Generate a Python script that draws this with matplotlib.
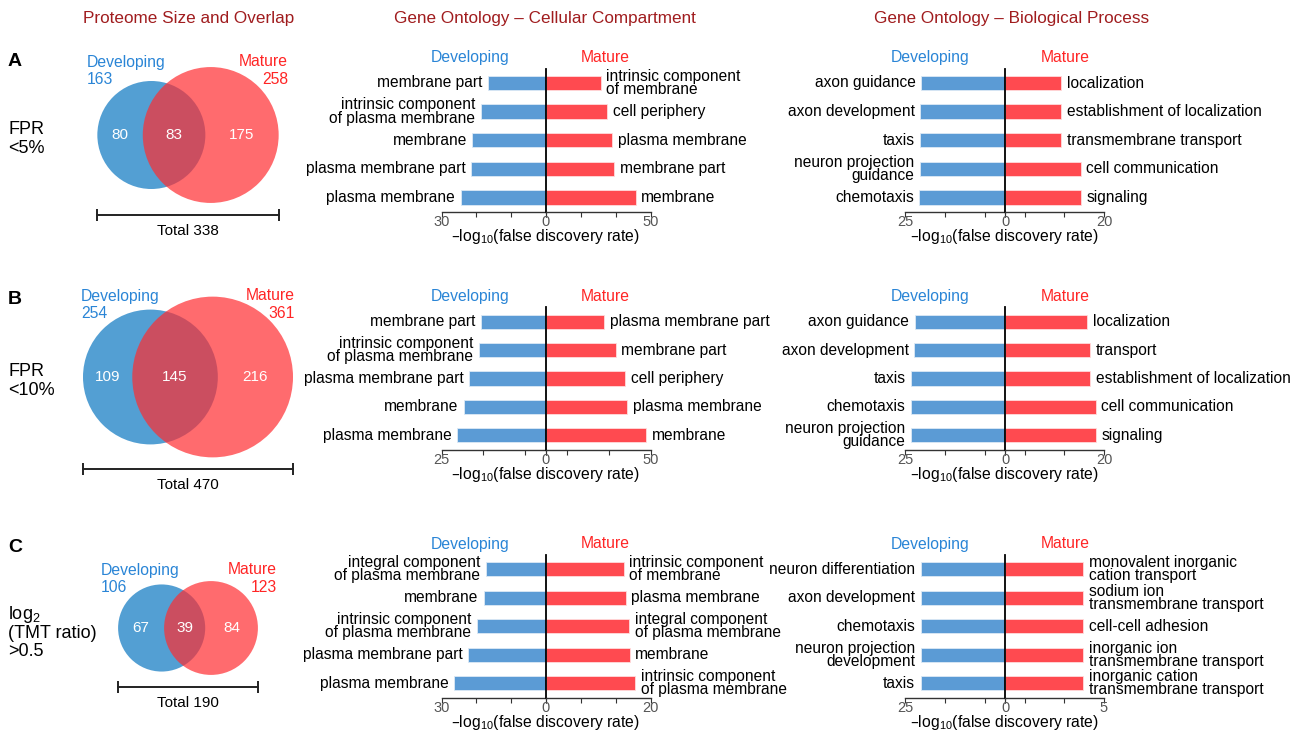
import matplotlib as mpl
mpl.use('Agg')
import matplotlib.pyplot as plt
import numpy as np
from matplotlib.patches import Circle

plt.rcParams['font.family'] = ['Liberation Sans', 'DejaVu Sans']

# ---- data ------------------------------------------------------------
venn_dev = [163, 254, 106]
venn_mat = [258, 361, 123]
venn_both = [83, 145, 39]
venn_dev_only = [80, 109, 67]
venn_mat_only = [175, 216, 84]
venn_total = [338, 470, 190]

row_letters = ['A', 'B', 'C']
row_conditions = ['FPR\n<5%', 'FPR\n<10%', 'log$\\mathregular{_2}$\n(TMT ratio)\n>0.5']

# cellular compartment, top to bottom
cc_dev_labels = [
    ['membrane part', 'intrinsic component\nof plasma membrane', 'membrane',
     'plasma membrane part', 'plasma membrane'],
    ['membrane part', 'intrinsic component\nof plasma membrane', 'plasma membrane part',
     'membrane', 'plasma membrane'],
    ['integral component\nof plasma membrane', 'membrane', 'intrinsic component\nof plasma membrane',
     'plasma membrane part', 'plasma membrane'],
]
cc_dev_values = [
    [16.7, 18.6, 21.1, 21.4, 24.5],
    [15.6, 16.0, 18.3, 19.6, 21.3],
    [17.2, 17.8, 19.8, 22.3, 26.3],
]
cc_mat_labels = [
    ['intrinsic component\nof membrane', 'cell periphery', 'plasma membrane',
     'membrane part', 'membrane'],
    ['plasma membrane part', 'membrane part', 'cell periphery', 'plasma membrane', 'membrane'],
    ['intrinsic component\nof membrane', 'plasma membrane', 'integral component\nof plasma membrane',
     'membrane', 'intrinsic component\nof plasma membrane'],
]
cc_mat_values = [
    [26.3, 29.5, 31.9, 32.7, 42.9],
    [28.0, 33.5, 38.0, 38.8, 47.8],
    [14.9, 15.3, 15.9, 16.0, 17.1],
]
cc_dev_max = [30, 25, 30]
cc_mat_max = [50, 50, 20]

# biological process, top to bottom
bp_dev_labels = [
    ['axon guidance', 'axon development', 'taxis', 'neuron projection\nguidance', 'chemotaxis'],
    ['axon guidance', 'axon development', 'taxis', 'chemotaxis', 'neuron projection\nguidance'],
    ['neuron differentiation', 'axon development', 'chemotaxis',
     'neuron projection\ndevelopment', 'taxis'],
]
bp_dev_values = [
    [21.0, 21.2, 21.2, 21.2, 21.4],
    [22.6, 22.7, 23.5, 23.5, 23.5],
    [21.0, 21.0, 21.1, 21.0, 21.1],
]
bp_mat_labels = [
    ['localization', 'establishment of localization', 'transmembrane transport',
     'cell communication', 'signaling'],
    ['localization', 'transport', 'establishment of localization',
     'cell communication', 'signaling'],
    ['monovalent inorganic\ncation transport', 'sodium ion\ntransmembrane transport',
     'cell-cell adhesion', 'inorganic ion\ntransmembrane transport',
     'inorganic cation\ntransmembrane transport'],
]
bp_mat_values = [
    [11.4, 11.4, 11.4, 15.3, 15.3],
    [16.6, 17.2, 17.2, 18.3, 18.3],
    [3.96, 3.96, 3.96, 3.96, 3.96],
]
bp_dev_max = [25, 25, 25]
bp_mat_max = [20, 20, 5]

# ---- style / layout ------------------------------------------------------
BLUE_BAR = '#5b9bd5'
RED_BAR = '#ff4a50'
BLUE_TXT = '#2a85d6'
RED_TXT = '#ff2525'
HEAD = '#a01c1e'
VBLUE = '#539fd3'
VRED = '#ff2c30'

W, H = 1311, 732
fig = plt.figure(figsize=(W / 100, H / 100), dpi=100)


def rect(x0, y0, x1, y1):
    return [x0 / W, 1 - y1 / H, (x1 - x0) / W, (y1 - y0) / H]


def ftext(x, y, s, **kw):
    fig.text(x / W, 1 - y / H, s, **kw)


row_top = [68.7, 307.4, 555.0]
row_bot = [211.7, 449.5, 697.5]
venn_cy = [135, 377, 628]
cc_x = (441.5, 545.5, 650.5)
bp_x = (905, 1005, 1104)

ftext(189, 19, 'Proteome Size and Overlap', color=HEAD, fontsize=12.3, ha='center', va='center')
ftext(545, 19, 'Gene Ontology \u2013 Cellular Compartment', color=HEAD, fontsize=12.3,
      ha='center', va='center')
ftext(1012, 19, 'Gene Ontology \u2013 Biological Process', color=HEAD, fontsize=12.3,
      ha='center', va='center')


def lens_area(d, r1, r2):
    a1 = np.arccos(np.clip((d**2 + r1**2 - r2**2) / (2 * d * r1), -1, 1))
    a2 = np.arccos(np.clip((d**2 + r2**2 - r1**2) / (2 * d * r2), -1, 1))
    tri = 0.5 * np.sqrt(max((-d + r1 + r2) * (d + r1 - r2) * (d - r1 + r2) * (d + r1 + r2), 0))
    return r1**2 * a1 + r2**2 * a2 - tri


def venn(i):
    k = 4.23  # px per sqrt(count)
    cy = venn_cy[i]
    ax = fig.add_axes(rect(58, cy - 100, 318, cy + 120))
    ax.set_xlim(-130 / k, 130 / k)
    ax.set_ylim(-120 / k, 100 / k)
    ax.axis('off')
    r1, r2 = np.sqrt(venn_dev[i]), np.sqrt(venn_mat[i])
    target = np.pi * venn_both[i]
    lo, hi = abs(r1 - r2) + 1e-6, r1 + r2
    for _ in range(60):
        mid = 0.5 * (lo + hi)
        if lens_area(mid, r1, r2) > target:
            lo = mid
        else:
            hi = mid
    d = 0.5 * (lo + hi)
    c1 = (r1 - r2 - d) / 2
    c2 = c1 + d
    ax.add_patch(Circle((c1, 0), r1, color=VBLUE, lw=0))
    ax.add_patch(Circle((c2, 0), r2, color=VRED, alpha=0.7, lw=0))
    left, right = c1 - r1, c2 + r2
    ax.text((left + c2 - r2) / 2, 0, str(venn_dev_only[i]), color='white', fontsize=11,
            ha='center', va='center')
    ax.text((c2 - r2 + c1 + r1) / 2, 0, str(venn_both[i]), color='white', fontsize=11,
            ha='center', va='center')
    ax.text((c1 + r1 + right) / 2, 0, str(venn_mat_only[i]), color='white', fontsize=11,
            ha='center', va='center')
    yb = -max(r1, r2) - 12 / k
    ax.plot([left, right], [yb, yb], color='#222', lw=1.4, marker='|', markersize=8,
            markeredgewidth=1.4)
    ax.text(0, yb - 16 / k, f'Total {venn_total[i]}', fontsize=11, ha='center', va='center')


dev_lab_pos = [(87, 62, 79), (81, 296, 313), (101, 570, 587)]
mat_lab_pos = [(288, 62, 79), (295, 296, 313), (277, 570, 587)]


def go_panel(xs, top, bot, dl, dv, ml, mv, lmax, rmax, fr):
    x0, xz, x1 = xs
    axl = fig.add_axes(rect(x0, top, xz, bot))
    axr = fig.add_axes(rect(xz, top, x1, bot))
    y = np.arange(len(dv))
    axl.barh(y, dv, height=0.5, color=BLUE_BAR, edgecolor='#dde9f5', lw=0.6)
    axr.barh(y, mv, height=0.5, color=RED_BAR, edgecolor='#ffdcdc', lw=0.6)
    axl.set_xlim(lmax, 0)
    axr.set_xlim(0, rmax)
    for ax in (axl, axr):
        ax.set_ylim(len(y) - 0.5, -0.5)
        ax.set_yticks([])
        ax.patch.set_visible(False)
        for s in ['top', 'right', 'left']:
            ax.spines[s].set_visible(False)
        ax.spines['bottom'].set_color('#333')
        ax.spines['bottom'].set_linewidth(1.0)
        ax.tick_params(axis='x', length=3.5, width=0.8, color='#333', labelcolor='#555',
                       labelsize=10.5, pad=-1)
    axr.spines['left'].set_visible(True)
    axr.spines['left'].set_color('black')
    axr.spines['left'].set_linewidth(1.3)
    axl.set_xticks([lmax, lmax * fr[1], lmax * fr[0], 0])
    axl.set_xticklabels([str(lmax), '', '', ''])
    axr.set_xticks([0, rmax * fr[0], rmax * fr[1], rmax])
    axr.set_xticklabels(['0', '', '', str(rmax)])
    for yi, (lab, v) in enumerate(zip(dl, dv)):
        axl.annotate(lab, xy=(v, yi), xytext=(-4, 0), textcoords='offset points',
                     ha='right', va='center', fontsize=11.2, linespacing=0.85)
    for yi, (lab, v) in enumerate(zip(ml, mv)):
        axr.annotate(lab, xy=(v, yi), xytext=(4, 0), textcoords='offset points',
                     ha='left', va='center', fontsize=11.2, linespacing=0.85)
    ftext(xz - 75, top - 11, 'Developing', color=BLUE_TXT, fontsize=11.3, ha='center', va='center')
    ftext(xz + 60, top - 11, 'Mature', color=RED_TXT, fontsize=11.3, ha='center', va='center')
    ftext(xz, bot + 25, '\u2013log$\\mathregular{_{10}}$(false discovery rate)', fontsize=11.3,
          ha='center', va='center')


for i in range(3):
    ftext(8, [62, 300, 548][i], row_letters[i], fontsize=14, fontweight='bold',
          ha='left', va='center')
    ftext(8, venn_cy[i] + 4, row_conditions[i], fontsize=13, ha='left', va='center',
          linespacing=1.05 if i == 2 else 1.2)
    venn(i)
    x, y1, y2 = dev_lab_pos[i]
    ftext(x, y1, 'Developing', color=BLUE_TXT, fontsize=11.3, ha='left', va='center')
    ftext(x, y2, str(venn_dev[i]), color=BLUE_TXT, fontsize=11.3, ha='left', va='center')
    x, y1, y2 = mat_lab_pos[i]
    ftext(x, y1, 'Mature', color=RED_TXT, fontsize=11.3, ha='right', va='center')
    ftext(x, y2, str(venn_mat[i]), color=RED_TXT, fontsize=11.3, ha='right', va='center')

    cc_fr = (1 / 3, 2 / 3) if i != 1 else (0.2, 0.6)
    go_panel(cc_x, row_top[i], row_bot[i], cc_dev_labels[i], cc_dev_values[i],
             cc_mat_labels[i], cc_mat_values[i], cc_dev_max[i], cc_mat_max[i], cc_fr)
    go_panel(bp_x, row_top[i], row_bot[i], bp_dev_labels[i], bp_dev_values[i],
             bp_mat_labels[i], bp_mat_values[i], bp_dev_max[i], bp_mat_max[i], (0.2, 0.6))

fig.savefig('out.png', dpi=100)
